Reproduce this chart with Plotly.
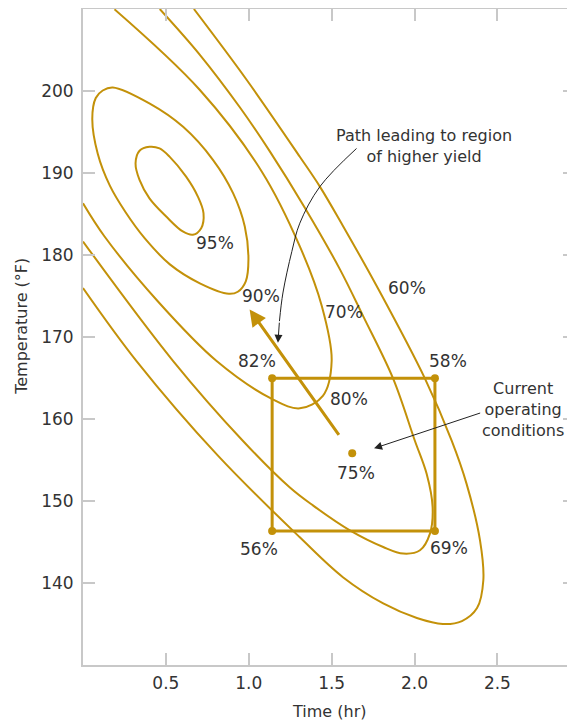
import plotly.graph_objects as go

GOLD = "#C39109"
TXT = "#333333"
AXIS = "#c8c8c8"
FONT = "DejaVu Sans"

# ---- contour curves (time hr, temperature F) ----
c95_time = [0.401, 0.462, 0.522, 0.622, 0.693, 0.727, 0.713, 0.663, 0.602, 0.502, 0.401, 0.341, 0.317, 0.341, 0.401]
c95_temp = [193.2, 193.0, 192.0, 189.55, 187.12, 185.09, 183.27, 182.47, 182.87, 184.69, 186.91, 189.15, 191.17, 192.71, 193.2]

c90_time = [0.180, 0.403, 0.604, 0.785, 0.906, 0.976, 0.998, 0.982, 0.934, 0.880, 0.705, 0.524, 0.373, 0.258, 0.162, 0.089, 0.056, 0.077, 0.119, 0.180]
c90_temp = [200.43, 198.46, 195.63, 191.58, 187.52, 183.48, 179.47, 176.79, 175.52, 175.27, 176.55, 178.86, 182.02, 185.18, 188.46, 192.35, 196.60, 199.15, 200.06, 200.43]

c80_time = [0.190, 0.705, 1.079, 1.308, 1.441, 1.500, 1.447, 1.308, 1.139, 0.806, 0.451, 0.130, 0.0]
c80_temp = [209.96, 200.12, 190.16, 181.05, 173.76, 167.07, 162.82, 161.30, 162.46, 167.07, 174.36, 182.26, 186.31]

c70_time = [0.463, 0.705, 0.946, 1.127, 1.339, 1.550, 1.690, 1.871, 2.002, 2.073, 2.109, 2.093, 2.033, 1.932, 1.811, 1.610, 1.387, 1.248, 0.964, 0.544, 0.0]
c70_temp = [210.0, 204.42, 198.02, 192.64, 185.74, 178.25, 172.54, 164.92, 157.35, 153.31, 149.25, 146.02, 143.99, 143.59, 144.39, 146.42, 149.46, 151.64, 157.35, 167.07, 181.65]

c60_time = [0.669, 0.988, 1.308, 1.429, 1.570, 1.779, 2.063, 2.224, 2.314, 2.395, 2.415, 2.377, 2.286, 2.171, 2.014, 1.811, 1.568, 1.308, 0.814, 0.323, 0.0]
c60_temp = [210.0, 201.34, 191.98, 188.34, 183.48, 175.94, 164.92, 157.35, 152.09, 145.20, 140.34, 136.94, 135.36, 135.00, 135.73, 137.51, 140.71, 145.57, 155.53, 167.07, 175.98]

contour_labels = ["95%", "90%", "80%", "70%", "60%"]
contour_label_time = [0.798, 1.073, 1.604, 1.574, 1.954]
contour_label_temp = [181.41, 174.97, 162.40, 173.09, 175.94]

# ---- factorial design box ----
box_time = [1.141, 2.123, 2.123, 1.141, 1.141]
box_temp = [164.97, 164.97, 146.33, 146.33, 164.97]
corner_time = [1.141, 2.123, 1.141, 2.123]
corner_temp = [164.97, 164.97, 146.33, 146.33]
corner_yield = ["82%", "58%", "56%", "69%"]
corner_shift = [(-15, 17), (13, 17), (-13, -18), (14, -17)]

center_time = [1.624]
center_temp = [155.81]
center_yield = "75%"

# ---- steepest ascent arrow ----
ascent_from = (1.550, 157.88)
ascent_to = (1.005, 173.36)

# ---- callouts ----
path_time = [1.650, 1.429, 1.308, 1.260, 1.206, 1.185]
path_temp = [192.99, 188.34, 183.88, 180.44, 175.37, 171.93]
path_tip = (1.176, 169.30)
path_text_pos = (2.057, 193.32)
current_from = (2.405, 160.79)
current_to = (1.756, 156.42)
current_text_pos = (2.654, 161.17)

x_ticks = [0.5, 1.0, 1.5, 2.0, 2.5]
x_ticktext = ["0.5", "1.0", "1.5", "2.0", "2.5"]
y_ticks = [140, 150, 160, 170, 180, 190, 200]

fig = go.Figure()

for tx, ty in [(c95_time, c95_temp), (c90_time, c90_temp), (c80_time, c80_temp),
               (c70_time, c70_temp), (c60_time, c60_temp)]:
    fig.add_trace(go.Scatter(x=tx, y=ty, mode="lines",
                             line=dict(color=GOLD, width=2, shape="spline", smoothing=1.0),
                             hoverinfo="skip", showlegend=False))

fig.add_trace(go.Scatter(x=box_time, y=box_temp, mode="lines",
                         line=dict(color=GOLD, width=3), hoverinfo="skip", showlegend=False))
fig.add_trace(go.Scatter(x=corner_time + center_time, y=corner_temp + center_temp, mode="markers",
                         marker=dict(color=GOLD, size=8), hoverinfo="skip", showlegend=False))

fig.add_trace(go.Scatter(x=path_time, y=path_temp, mode="lines",
                         line=dict(color="#222222", width=1, shape="spline"),
                         hoverinfo="skip", showlegend=False))

ann_font = dict(family=FONT, size=17, color=TXT)
for lab, tx, ty in zip(contour_labels, contour_label_time, contour_label_temp):
    fig.add_annotation(x=tx, y=ty, text=lab, showarrow=False, font=ann_font,
                       xanchor="center", yanchor="middle")
for lab, tx, ty, (dx, dy) in zip(corner_yield, corner_time, corner_temp, corner_shift):
    fig.add_annotation(x=tx, y=ty, text=lab, showarrow=False, font=ann_font,
                       xanchor="center", yanchor="middle", xshift=dx, yshift=dy)
fig.add_annotation(x=center_time[0], y=center_temp[0], text=center_yield, showarrow=False,
                   font=ann_font, xanchor="center", yanchor="middle", xshift=4, yshift=-20)

# gold arrow
fig.add_annotation(x=ascent_to[0], y=ascent_to[1], ax=ascent_from[0], ay=ascent_from[1],
                   axref="x", ayref="y", xref="x", yref="y", text="", showarrow=True,
                   arrowhead=2, arrowsize=1.1, arrowwidth=3, arrowcolor=GOLD)
# black arrowheads
fig.add_annotation(x=path_tip[0], y=path_tip[1], ax=path_time[-1], ay=path_temp[-1],
                   axref="x", ayref="y", xref="x", yref="y", text="", showarrow=True,
                   arrowhead=2, arrowsize=1.6, arrowwidth=1, arrowcolor="#222222")
fig.add_annotation(x=current_to[0], y=current_to[1], ax=current_from[0], ay=current_from[1],
                   axref="x", ayref="y", xref="x", yref="y", text="", showarrow=True,
                   arrowhead=2, arrowsize=1.6, arrowwidth=1, arrowcolor="#222222")

txt_font = dict(family=FONT, size=16, color=TXT)
fig.add_annotation(x=path_text_pos[0], y=path_text_pos[1],
                   text="Path leading to region<br>of higher yield", showarrow=False,
                   font=txt_font, align="center", xanchor="center", yanchor="middle")
fig.add_annotation(x=current_text_pos[0], y=current_text_pos[1],
                   text="Current<br>operating<br>conditions", showarrow=False,
                   font=txt_font, align="center", xanchor="center", yanchor="middle")

# axis titles
fig.add_annotation(xref="paper", yref="paper", x=0.5, y=-0.0716, text="Time (hr)",
                   showarrow=False, font=txt_font, xanchor="center", yanchor="middle")
fig.add_annotation(xref="paper", yref="paper", x=-0.124, y=0.517, text="Temperature (°F)",
                   showarrow=False, font=txt_font, textangle=-90, xanchor="center", yanchor="middle")

axis_common = dict(showgrid=False, zeroline=False, showline=True, linecolor=AXIS, linewidth=2,
                   ticks="inside", ticklen=12, tickwidth=2, tickcolor=AXIS, mirror="ticks",
                   automargin=False,
                   tickfont=dict(family=FONT, size=17, color=TXT))
fig.update_xaxes(range=[0, 2.968], tickvals=x_ticks, ticktext=x_ticktext, ticklabelstandoff=2,
                 **axis_common)
fig.update_yaxes(range=[130, 210], tickvals=y_ticks, ticklabelstandoff=4, **axis_common)

# the page adds an 8px body margin, so the figure is sized to fill the rest of the window
fig.update_layout(width=567, height=714, margin=dict(l=75, r=0, t=1, b=57),
                  plot_bgcolor="white", paper_bgcolor="white",
                  font=dict(family=FONT, color=TXT))

fig.write_html("out.html")
